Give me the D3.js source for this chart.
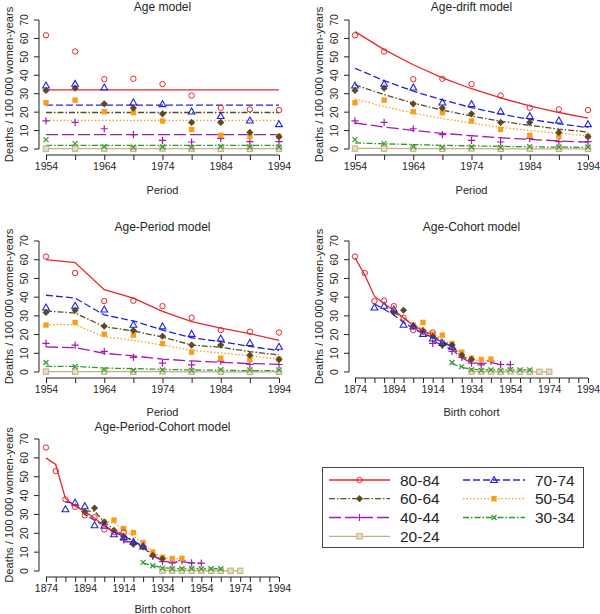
<!DOCTYPE html>
<html><head><meta charset="utf-8">
<script src="https://cdn.jsdelivr.net/npm/d3@7"></script>
<style>body{margin:0;background:#fff}svg{display:block}text{font-family:"Liberation Sans",Arial,Helvetica,sans-serif}</style>
</head><body><svg id="c" width="600" height="614"></svg>
<script>
// ---------- data ----------
const periods = [1954,1959,1964,1969,1974,1979,1984,1989,1994];
const ageGroups = ["80-84","70-74","60-64","50-54","40-44","30-34","20-24"];
const ageLower = [80,70,60,50,40,30,20];
const yTicks = [0,10,20,30,40,50,60,70];
const periodTickLabels = [1954,1964,1974,1984,1994];
const cohortTickLabels = [1874,1894,1914,1934,1954,1974,1994];

// observed rates (deaths / 100 000), by age group, periods 1954..1994
const obs8084 = [61.7,52.9,37.9,38.1,35.2,29.0,22.4,21.5,21.1];
const obs7074 = [34.5,35.4,33.4,25.3,24.4,20.4,17.9,15.5,13.5];
const obs6064 = [31.8,33.0,24.5,22.2,19.1,14.4,14.4,9.0,6.7];
const obs5054 = [25.1,26.5,20.2,19.7,15.2,10.6,7.4,6.7,6.9];
const obs4044 = [15.3,14.4,11.0,7.8,4.7,3.8,5.8,4.0,4.0];
const obs3034 = [5.1,2.9,1.3,0.9,1.1,0.9,1.3,1.1,1.1];
const obs2024 = [0.2,0.2,0.2,0.1,0.3,0.1,0.1,0.1,0.1];

// Age model fits (constant by age)
const fitAge = [32.1,23.8,19.8,15.5,7.8,2.0,0.2];

// Age-drift model fits
const drift8084 = [63.7,53.9,45.7,38.6,32.7,27.7,23.4,19.8,16.8];
const drift7074 = [43.8,37.1,31.4,26.6,22.5,19.0,16.1,13.7,11.6];
const drift6064 = [34.8,29.5,24.9,21.1,17.9,15.1,12.8,10.8,9.2];
const drift5054 = [27.2,23.0,19.5,16.5,14.0,11.8,10.0,8.5,7.2];
const drift4044 = [14.1,11.9,10.1,8.5,7.2,6.1,5.2,4.4,3.7];
const drift3034 = [3.3,2.8,2.4,2.0,1.7,1.4,1.2,1.0,0.9];
const drift2024 = [0.3,0.3,0.2,0.2,0.2,0.1,0.1,0.1,0.1];

// Age-Period model fits
const ap8084 = [60.0,58.5,44.0,39.5,32.4,26.9,23.5,20.5,16.9];
const ap7074 = [41.0,39.5,30.5,27.3,22.4,18.3,16.2,13.7,11.4];
const ap6064 = [32.6,31.5,24.2,21.9,18.7,14.4,13.2,10.9,9.1];
const ap5054 = [25.3,25.3,18.9,16.9,14.4,11.6,10.2,8.6,6.9];
const ap4044 = [13.4,13.0,10.0,8.6,6.9,5.9,5.2,4.5,4.1];
const ap3034 = [3.0,3.0,2.1,1.8,1.4,1.1,0.9,0.7,0.7];
const ap2024 = [0.2,0.2,0.2,0.2,0.2,0.1,0.1,0.1,0.1];

// Age-Cohort model fits (cohort = period - lower age)
const ac8084 = [61.0,52.0,40.5,36.5,33.0,29.0,25.0,22.0,19.5];
const ac7074 = [36.5,33.5,30.5,26.5,23.5,20.5,18.5,16.0,13.5];
const ac6064 = [32.0,29.0,25.0,22.0,19.5,16.5,13.5,8.5,5.5];
const ac5054 = [26.0,23.0,20.5,17.5,14.5,9.5,6.5,6.0,6.0];
const ac4044 = [16.5,14.5,12.0,7.5,5.0,4.5,5.0,4.0,4.0];
const ac3034 = [4.5,2.5,1.5,1.2,1.2,1.2,1.1,1.1,1.1];
const ac2024 = [0.2,0.2,0.2,0.2,0.2,0.1,0.1,0.1,0.1];

// Age-Period-Cohort panel: points and fits
const apcObs8084 = [65.5,53.0,38.0,34.0,29.5,28.5,22.0,20.5,20.5];
const apcObs7074 = [32.8,36.3,34.4,24.3,24.0,19.5,18.0,15.5,13.0];
const apcObs6064 = [31.4,33.4,25.9,21.6,18.4,14.2,12.8,8.3,6.5];
const apcObs5054 = [26.0,27.0,22.5,20.4,15.1,10.1,7.3,6.6,6.7];
const apcObs4044 = [16.5,14.5,13.0,7.8,5.0,4.3,5.5,4.3,4.2];
const apcObs3034 = [4.6,2.8,1.5,1.2,1.2,1.3,1.1,1.2,1.2];
const apcObs2024 = [0.2,0.2,0.2,0.2,0.2,0.1,0.1,0.1,0.1];
const apc8084 = [60.0,56.5,38.5,34.5,31.5,28.0,24.0,21.0,19.5];
const apc7074 = [36.7,35.8,30.0,27.0,24.0,20.5,18.5,16.0,13.0];
const apc6064 = [31.7,31.7,26.0,22.0,19.0,15.5,13.0,8.5,6.0];
const apc5054 = [26.5,25.5,21.5,18.5,14.5,10.0,7.0,6.5,6.5];
const apc4044 = [15.5,15.5,12.5,8.0,5.5,4.5,5.0,4.2,4.0];
const apc3034 = [4.2,2.8,1.8,1.3,1.3,1.2,1.2,1.2,1.2];
const apc2024 = [0.2,0.2,0.2,0.2,0.2,0.1,0.1,0.1,0.1];

const observed = [obs8084,obs7074,obs6064,obs5054,obs4044,obs3034,obs2024];
const apcObserved = [apcObs8084,apcObs7074,apcObs6064,apcObs5054,apcObs4044,apcObs3034,apcObs2024];

// ---------- styles ----------
const colors = ["#E8262B","#2323D8","#5E4A22","#F99D1C","#A21CB0","#2E9A2E","#C2B080"];
const dashes = [null,"7,3","6,2,1.5,2","1.5,2","12,4","6,2,1.5,2",null];
const markers = ["circle","triangle","diamond","square","plus","cross","osquare"];

const svg = d3.select("#c");
const FONT = "Liberation Sans, Arial, sans-serif";
const TXT = "#262626";

function drawMarker(g, type, x, y, col) {
  if (type === "circle") {
    g.append("circle").attr("cx",x).attr("cy",y).attr("r",2.7).attr("fill","none").attr("stroke",col).attr("stroke-width",1);
  } else if (type === "triangle") {
    const s = 3.4;
    g.append("path").attr("d",`M${x},${y-s}L${x+s},${y+s*0.75}L${x-s},${y+s*0.75}Z`).attr("fill","none").attr("stroke",col).attr("stroke-width",1.1);
  } else if (type === "diamond") {
    const s = 3.6;
    g.append("path").attr("d",`M${x},${y-s}L${x+s},${y}L${x},${y+s}L${x-s},${y}Z`).attr("fill",col);
  } else if (type === "square") {
    g.append("rect").attr("x",x-2.7).attr("y",y-2.7).attr("width",5.4).attr("height",5.4).attr("fill",col);
  } else if (type === "plus") {
    const s = 3.6;
    g.append("path").attr("d",`M${x-s},${y}H${x+s}M${x},${y-s}V${y+s}`).attr("stroke",col).attr("stroke-width",1.2);
  } else if (type === "cross") {
    const s = 2.5;
    g.append("path").attr("d",`M${x-s},${y-s}L${x+s},${y+s}M${x-s},${y+s}L${x+s},${y-s}`).attr("stroke",col).attr("stroke-width",1.2);
  } else if (type === "osquare") {
    g.append("rect").attr("x",x-2.7).attr("y",y-2.7).attr("width",5.4).attr("height",5.4).attr("fill","#E6DDC4").attr("stroke",col).attr("stroke-width",1);
  }
}

function panel(cfg) {
  const g = svg.append("g");
  const x = d3.scaleLinear().domain(cfg.xDomain).range([cfg.x0, cfg.x1]);
  const y = d3.scaleLinear().domain([0,70]).range([cfg.y0, cfg.y70]);
  const axisX = cfg.axisLeft;
  // title
  g.append("text").attr("x",(cfg.x0+cfg.x1)/2).attr("y",cfg.titleY).attr("text-anchor","middle")
    .attr("font-size",12).attr("fill",TXT).text(cfg.title);
  // y axis
  const ya = g.append("g").attr("transform",`translate(${axisX},0)`)
    .call(d3.axisLeft(y).tickValues(yTicks).tickSize(5).tickPadding(3));
  ya.select(".domain").attr("d",`M0,${y(0)}V${y(70)}`).attr("stroke","#222");
  ya.selectAll(".tick").attr("transform","translate(0,0)");
  ya.selectAll(".tick line").attr("stroke","#222").attr("y1",d=>y(d)).attr("y2",d=>y(d));
  ya.selectAll(".tick text").attr("font-size",10.5).attr("font-family",FONT).attr("fill",TXT)
    .attr("x",-11).attr("y",d=>y(d)).attr("dy","0").attr("text-anchor","middle")
    .attr("transform",d=>`rotate(-90,${-11},${y(d)})`);
  g.append("text").attr("transform",`translate(${axisX-26},${(y(0)+y(70))/2}) rotate(-90)`)
    .attr("text-anchor","middle").attr("font-size",11.2).attr("fill",TXT).text("Deaths / 100 000 women-years");
  // x axis
  const xa = g.append("g").attr("transform",`translate(0,${cfg.axisBottom})`)
    .call(d3.axisBottom(x).tickValues(cfg.ticks).tickSize(5).tickPadding(3).tickFormat(d=>cfg.labels.includes(d)?d:""));
  xa.select(".domain").attr("d",`M${x(cfg.ticks[0])},0H${x(cfg.ticks[cfg.ticks.length-1])}`).attr("stroke","#222");
  xa.selectAll(".tick line").attr("stroke","#222");
  xa.selectAll(".tick text").attr("font-size",10.5).attr("font-family",FONT).attr("fill",TXT);
  g.append("text").attr("x",(cfg.x0+cfg.x1)/2).attr("y",cfg.xLabelY).attr("text-anchor","middle")
    .attr("font-size",11).attr("fill",TXT).text(cfg.xLabel);

  // fits then points
  const line = d3.line().x(d=>x(d[0])).y(d=>y(d[1]));
  for (let k = ageGroups.length-1; k >= 0; k--) {
    const xs = periods.map(p => cfg.cohort ? p - ageLower[k] : p);
    const fit = cfg.fits[k];
    const pts = Array.isArray(fit) ? xs.map((xv,i)=>[xv,fit[i]]) : [[xs[0],fit],[xs[xs.length-1],fit]];
    g.append("path").attr("d",line(pts)).attr("fill","none").attr("stroke",colors[k])
      .attr("stroke-width",1.3).attr("stroke-dasharray",dashes[k]);
  }
  for (let k = ageGroups.length-1; k >= 0; k--) {
    const xs = periods.map(p => cfg.cohort ? p - ageLower[k] : p);
    cfg.obs[k].forEach((v,i)=>drawMarker(g, markers[k], x(xs[i]), y(v), colors[k]));
  }
}

const periodTicks = periods;
const cohortTicks = d3.range(1874,1995,5);

panel({title:"Age model", x0:46,x1:279, y0:149,y70:20, axisLeft:39, axisBottom:155, titleY:10.5,
  xDomain:[1954,1994], ticks:periodTicks, labels:periodTickLabels, xLabel:"Period", xLabelY:194,
  cohort:false, obs:observed, fits:fitAge});
panel({title:"Age-drift model", x0:355,x1:588, y0:149,y70:20, axisLeft:349, axisBottom:155, titleY:10.5,
  xDomain:[1954,1994], ticks:periodTicks, labels:periodTickLabels, xLabel:"Period", xLabelY:194,
  cohort:false, obs:observed, fits:[drift8084,drift7074,drift6064,drift5054,drift4044,drift3034,drift2024]});
panel({title:"Age-Period model", x0:46,x1:279, y0:372,y70:241, axisLeft:39, axisBottom:378, titleY:231,
  xDomain:[1954,1994], ticks:periodTicks, labels:periodTickLabels, xLabel:"Period", xLabelY:416,
  cohort:false, obs:observed, fits:[ap8084,ap7074,ap6064,ap5054,ap4044,ap3034,ap2024]});
panel({title:"Age-Cohort model", x0:355,x1:588, y0:372,y70:241, axisLeft:349, axisBottom:378, titleY:231,
  xDomain:[1874,1994], ticks:cohortTicks, labels:cohortTickLabels, xLabel:"Birth cohort", xLabelY:416,
  cohort:true, obs:observed, fits:[ac8084,ac7074,ac6064,ac5054,ac4044,ac3034,ac2024]});
panel({title:"Age-Period-Cohort model", x0:46,x1:279, y0:571,y70:439, axisLeft:39, axisBottom:577, titleY:431,
  xDomain:[1874,1994], ticks:cohortTicks, labels:cohortTickLabels, xLabel:"Birth cohort", xLabelY:612.5,
  cohort:true, obs:apcObserved, fits:[apc8084,apc7074,apc6064,apc5054,apc4044,apc3034,apc2024]});

// ---------- legend ----------
const lg = svg.append("g");
lg.append("rect").attr("x",322.5).attr("y",467.5).attr("width",261).attr("height",80)
  .attr("fill","#fff").attr("stroke","#444").attr("stroke-width",1);
const rowsY = [480,498.7,517.5,536.3];
ageGroups.forEach((a,k)=>{
  const col = k % 2, row = Math.floor(k/2);
  const lx0 = col===0 ? 329 : 463, lx1 = col===0 ? 390 : 525, tx = col===0 ? 400 : 535;
  const yy = rowsY[row];
  lg.append("line").attr("x1",lx0).attr("x2",lx1).attr("y1",yy).attr("y2",yy)
    .attr("stroke",colors[k]).attr("stroke-width",1.3).attr("stroke-dasharray",dashes[k]);
  drawMarker(lg, markers[k], (lx0+lx1)/2, yy, colors[k]);
  lg.append("text").attr("x",tx).attr("y",yy+5.5).attr("font-size",15.5).attr("fill",TXT).text(a);
});
</script></body></html>
